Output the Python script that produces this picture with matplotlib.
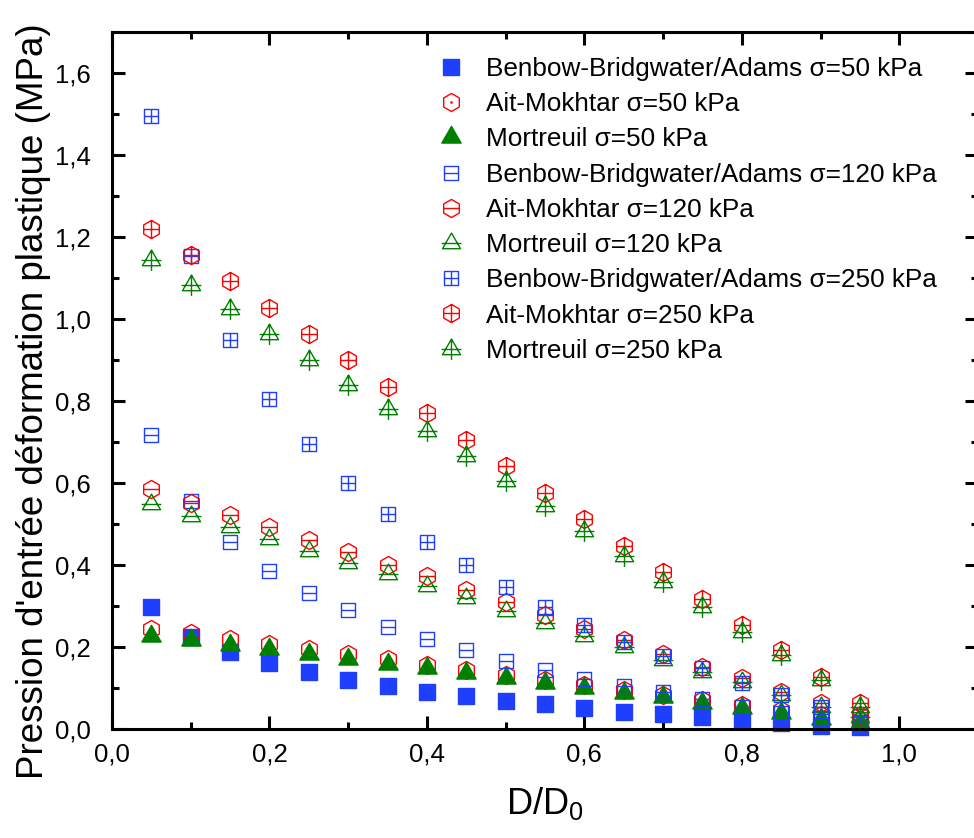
import numpy as np
import matplotlib
matplotlib.use("Agg")
import matplotlib.pyplot as plt
from matplotlib.path import Path
from matplotlib.ticker import MultipleLocator, FuncFormatter

plt.rcParams['font.family'] = ['Liberation Sans', 'DejaVu Sans']
plt.rcParams['mathtext.default'] = 'regular'

# D/D0 positions
d_ratio = [0.05, 0.10, 0.15, 0.20, 0.25, 0.30, 0.35, 0.40, 0.45, 0.50,
           0.55, 0.60, 0.65, 0.70, 0.75, 0.80, 0.85, 0.90, 0.95]

# sigma = 50 kPa
benbow_50 = [0.297, 0.225, 0.188, 0.160, 0.138, 0.119, 0.104, 0.091, 0.080, 0.069,
             0.061, 0.051, 0.042, 0.036, 0.030, 0.024, 0.015, 0.008, 0.006]
ait_50 = [0.245, 0.233, 0.219, 0.207, 0.194, 0.182, 0.170, 0.156, 0.143, 0.131,
          0.119, 0.107, 0.095, 0.083, 0.071, 0.058, 0.046, 0.034, 0.022]
mort_50 = [0.228, 0.216, 0.206, 0.194, 0.182, 0.170, 0.159, 0.148, 0.136, 0.124,
           0.112, 0.100, 0.087, 0.077, 0.063, 0.051, 0.039, 0.025, 0.015]

# sigma = 120 kPa
benbow_120 = [0.717, 0.555, 0.455, 0.386, 0.332, 0.290, 0.250, 0.219, 0.192, 0.165,
              0.143, 0.123, 0.104, 0.090, 0.072, 0.054, 0.039, 0.027, 0.018]
ait_120 = [0.586, 0.551, 0.522, 0.492, 0.462, 0.431, 0.401, 0.372, 0.338, 0.309,
           0.278, 0.243, 0.216, 0.184, 0.151, 0.124, 0.091, 0.063, 0.034]
mort_120 = [0.549, 0.520, 0.492, 0.464, 0.435, 0.404, 0.378, 0.350, 0.320, 0.289,
            0.258, 0.228, 0.200, 0.168, 0.139, 0.115, 0.083, 0.054, 0.030]

# sigma = 250 kPa
benbow_250 = [1.494, 1.153, 0.948, 0.804, 0.694, 0.600, 0.525, 0.457, 0.400, 0.346,
              0.297, 0.253, 0.212, 0.177, 0.148, 0.112, 0.083, 0.054, 0.032]
ait_250 = [1.220, 1.157, 1.092, 1.027, 0.963, 0.899, 0.835, 0.770, 0.705, 0.642,
           0.576, 0.513, 0.447, 0.382, 0.316, 0.253, 0.192, 0.127, 0.063]
mort_250 = [1.143, 1.083, 1.024, 0.963, 0.900, 0.840, 0.781, 0.727, 0.666, 0.605,
            0.544, 0.484, 0.423, 0.358, 0.297, 0.236, 0.180, 0.119, 0.054]

BLUE = '#1f3fff'
RED = '#ff0000'
GREEN = '#008000'


def shape_marker(shape, inner=None):
    # outline + optional inner strokes, Origin style
    if shape == 'hex':
        ang = np.deg2rad(90 + 60 * np.arange(6))
        outline = list(zip(np.cos(ang), np.sin(ang)))
        half = 0.866
    elif shape == 'square':
        outline = [(-1, -1), (1, -1), (1, 1), (-1, 1)]
        half = 1.0
    else:
        outline = [(0, 1), (-0.866, -0.5), (0.866, -0.5)]
        half = 0.95
    verts = outline + [(0, 0)]
    codes = [Path.MOVETO] + [Path.LINETO] * (len(outline) - 1) + [Path.CLOSEPOLY]
    if inner in ('h', 'plus'):
        verts += [(-half, 0), (half, 0)]
        codes += [Path.MOVETO, Path.LINETO]
    if inner == 'plus':
        verts += [(0, -1), (0, 1)]
        codes += [Path.MOVETO, Path.LINETO]
    if inner == 'dot':
        s = 0.06
        verts += [(-s, -s), (s, -s), (s, s), (-s, s), (0, 0)]
        codes += [Path.MOVETO, Path.LINETO, Path.LINETO, Path.LINETO, Path.CLOSEPOLY]
    return Path(verts, codes)


series = [
    (benbow_50, 'Benbow-Bridgwater/Adams σ=50 kPa', shape_marker('square'), BLUE, True, 11),
    (ait_50, 'Ait-Mokhtar σ=50 kPa', shape_marker('hex', 'dot'), RED, False, 13),
    (mort_50, 'Mortreuil σ=50 kPa', shape_marker('tri'), GREEN, True, 16),
    (benbow_120, 'Benbow-Bridgwater/Adams σ=120 kPa', shape_marker('square', 'h'), BLUE, False, 10),
    (ait_120, 'Ait-Mokhtar σ=120 kPa', shape_marker('hex', 'h'), RED, False, 13),
    (mort_120, 'Mortreuil σ=120 kPa', shape_marker('tri', 'h'), GREEN, False, 15),
    (benbow_250, 'Benbow-Bridgwater/Adams σ=250 kPa', shape_marker('square', 'plus'), BLUE, False, 10),
    (ait_250, 'Ait-Mokhtar σ=250 kPa', shape_marker('hex', 'plus'), RED, False, 13),
    (mort_250, 'Mortreuil σ=250 kPa', shape_marker('tri', 'plus'), GREEN, False, 15),
]

fig = plt.figure(figsize=(9.74, 8.38), dpi=100)
ax = fig.add_axes([112 / 974, 1 - 729 / 838, 866 / 974, 697 / 838])

for vals, label, mk, col, filled, ms in series:
    ax.plot(d_ratio, vals, linestyle='none', marker=mk, markersize=ms,
            markerfacecolor=col if filled else 'none', markeredgecolor=col,
            markeredgewidth=1.0, label=label, clip_on=False)

ax.set_xlim(0, 1.1)
ax.set_ylim(0, 1.7)
ax.xaxis.set_major_locator(MultipleLocator(0.2))
ax.xaxis.set_minor_locator(MultipleLocator(0.1))
ax.yaxis.set_major_locator(MultipleLocator(0.2))
ax.yaxis.set_minor_locator(MultipleLocator(0.1))
comma = FuncFormatter(lambda v, p: '{:.1f}'.format(v).replace('.', ','))
ax.xaxis.set_major_formatter(comma)
ax.yaxis.set_major_formatter(comma)

for sp in ax.spines.values():
    sp.set_linewidth(2.2)
ax.tick_params(which='both', direction='in', top=True, right=True, width=2.2,
               labelsize=18.5)
ax.tick_params(which='major', length=9.5)
ax.tick_params(which='minor', length=5)
ax.tick_params(axis='x', which='major', pad=10)
ax.tick_params(axis='y', which='major', pad=15)

ax.set_xlabel('D/D$_0$', fontsize=26, labelpad=13)
ax.set_ylabel("Pression d'entrée déformation plastique (MPa)", fontsize=26.5)
ax.yaxis.set_label_coords(-0.07, 0.47)

ax.legend(loc='upper left', bbox_to_anchor=(438 / 974, 1 - 57 / 838),
          bbox_transform=fig.transFigure, frameon=False, fontsize=18.8,
          numpoints=1, handlelength=1.0, handletextpad=0.85, labelspacing=0.43,
          borderpad=0, borderaxespad=0)

fig.savefig('out.png', dpi=100)
